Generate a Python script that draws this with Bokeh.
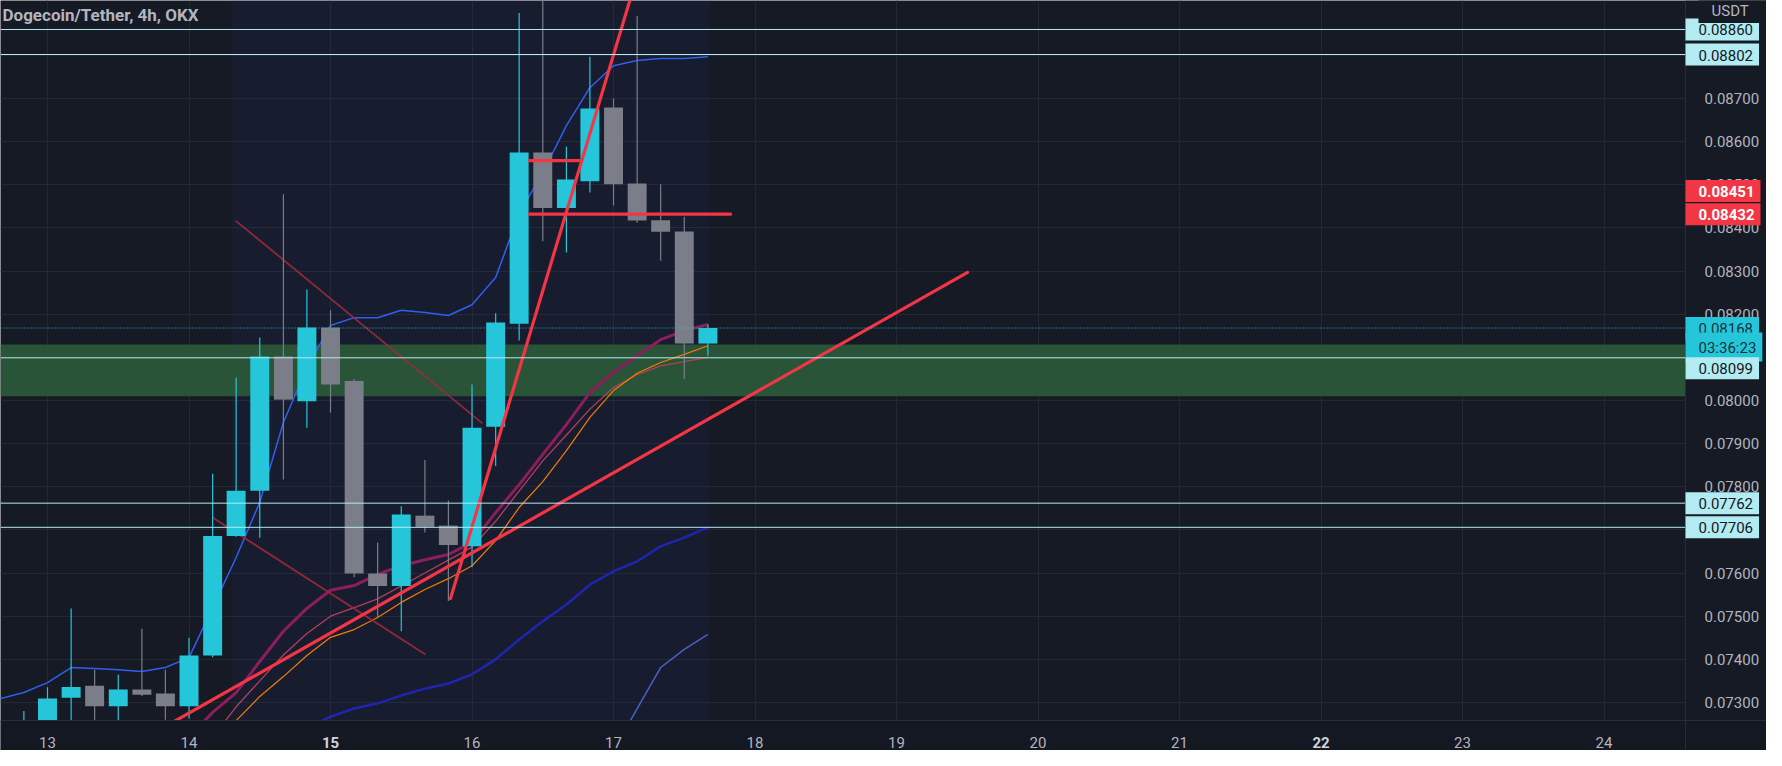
import numpy as np
from bokeh.plotting import figure
from bokeh.models import (Range1d, FixedTicker, Label, Span, BoxAnnotation, NumeralTickFormatter,
                          ColumnDataSource, LinearAxis, Grid)
from bokeh.embed import file_html
from bokeh.resources import INLINE

# ---------------- data ----------------
title_text = "Dogecoin/Tether, 4h, OKX"
currency = "USDT"
day_ticks = [13, 14, 16, 17, 18, 19, 20, 21, 23, 24]
bold_days = [15, 22]
price_ticks = [0.073, 0.074, 0.075, 0.076, 0.077, 0.078, 0.079, 0.080, 0.081,
               0.082, 0.083, 0.084, 0.085, 0.086, 0.087, 0.088]

# 4h candles (day of month)
dates = [12.833, 13.0, 13.167, 13.333, 13.5, 13.667, 13.833, 14.0, 14.167, 14.333,
         14.5, 14.667, 14.833, 15.0, 15.167, 15.333, 15.5, 15.667, 15.833, 16.0,
         16.167, 16.333, 16.5, 16.667, 16.833, 17.0, 17.167, 17.333, 17.5, 17.667]
opens = [0.0719, 0.0724, 0.07311, 0.07339, 0.07291, 0.0733, 0.07321, 0.07291, 0.07409, 0.07686,
         0.07791, 0.08102, 0.07998, 0.08169, 0.08045, 0.07599, 0.0757, 0.07733, 0.0771, 0.07662,
         0.07939, 0.08178, 0.08575, 0.08446, 0.08508, 0.08679, 0.08503, 0.08418, 0.08392, 0.08132]
highs = [0.0728, 0.07335, 0.07518, 0.07376, 0.07365, 0.07471, 0.07376, 0.0745, 0.0783, 0.08053,
         0.08146, 0.08478, 0.08257, 0.08209, 0.0805, 0.07671, 0.07755, 0.07862, 0.07768, 0.08037,
         0.08202, 0.08898, 0.0895, 0.08589, 0.08797, 0.0870, 0.08891, 0.08501, 0.08426, 0.08177]
lows = [0.0716, 0.0722, 0.0725, 0.0724, 0.0725, 0.07315, 0.0726, 0.07263, 0.07405, 0.07684,
        0.07682, 0.07817, 0.07937, 0.07972, 0.0759, 0.07497, 0.07465, 0.07694, 0.07535, 0.07614,
        0.07848, 0.08139, 0.08369, 0.08343, 0.08482, 0.08452, 0.08412, 0.08324, 0.0805, 0.08104]
closes = [0.0725, 0.07309, 0.07336, 0.07291, 0.0733, 0.07318, 0.07291, 0.07409, 0.07686, 0.07791,
          0.08102, 0.08002, 0.08169, 0.08037, 0.07599, 0.0757, 0.07736, 0.07707, 0.07665, 0.07937,
          0.08181, 0.08575, 0.08446, 0.08512, 0.08677, 0.08501, 0.08417, 0.08391, 0.08132, 0.08168]

# indicator lines (one earlier point so the band reaches the left edge)
ind_dates = [12.5] + dates
upper_band = [0.07295, 0.07323, 0.07346, 0.07381, 0.07379, 0.07376, 0.07372, 0.07381, 0.07404, 0.0752,
              0.07636, 0.07764, 0.07949, 0.08076, 0.08174, 0.08192, 0.08192, 0.08209, 0.08204, 0.08197,
              0.08222, 0.08285, 0.08433, 0.08528, 0.08637, 0.08725, 0.08776, 0.08788, 0.08793, 0.08793, 0.08797]
slow_ma = [None] * 13 + [0.0724, 0.07267, 0.07286, 0.07298, 0.07316, 0.07332, 0.07344, 0.07365, 0.074,
                         0.07446, 0.07488, 0.07527, 0.07573, 0.07604, 0.07627, 0.07662, 0.07682, 0.07706]
lower_band = [None] * 26 + [0.07189, 0.07286, 0.07381, 0.07423, 0.07458]
ma_magenta = [None] * 8 + [0.0722, 0.07277, 0.07323, 0.07395, 0.07465, 0.07518, 0.0756, 0.07571, 0.07597,
                           0.07617, 0.07631, 0.07643, 0.07671, 0.0774, 0.07805, 0.07875, 0.07944, 0.08018,
                           0.08065, 0.08104, 0.08141, 0.08162, 0.08176]
ma_pink = [None] * 9 + [0.0722, 0.0729, 0.0735, 0.0741, 0.0746, 0.0750, 0.0752, 0.0754, 0.0757, 0.0760,
                        0.0763, 0.0766, 0.0772, 0.0779, 0.0786, 0.0792, 0.0798, 0.0803, 0.0806, 0.0808,
                        0.0809, 0.0810]
ma_orange = [None] * 9 + [0.0720, 0.07258, 0.07314, 0.0736, 0.07409, 0.07451, 0.07469, 0.07497, 0.07532,
                          0.07562, 0.07587, 0.07617, 0.07675, 0.07752, 0.07812, 0.07884, 0.07961, 0.08023,
                          0.08063, 0.08088, 0.08107, 0.08127]

# drawn lines: [start, end] in (day, price)
trend_up_x, trend_up_y = [13.6, 19.502], [0.07201, 0.08297]
trend_steep_x, trend_steep_y = [15.848, 17.2], [0.07541, 0.0902]
level_high_x, level_high_y = [16.406, 16.76], [0.08556, 0.08556]
level_mid_x, level_mid_y = [16.406, 17.827], [0.08432, 0.08432]
thin_a_x, thin_a_y = [14.329, 16.074], [0.08417, 0.07947]
thin_b_x, thin_b_y = [14.166, 15.671], [0.07729, 0.07411]

h_levels = [0.0886, 0.08802, 0.08099, 0.07762, 0.07706]
zone_bottom, zone_top = 0.0801, 0.0813
last_price = 0.08168
countdown = "03:36:23"
highlight_start, highlight_end = 14.3, 17.68

# ---------------- figure ----------------
BG = "#161a25"
TXT = "#b2b5be"
FONT = "Roboto"
x0, axis_x, x1 = 12.6678, 24.576, 25.148     # left edge, price-axis line, right edge
y0, y1 = 0.072582, 0.089272                  # bottom / top of the price pane
PANE_H = 720
AXIS_PX = 1685
ppx = (y1 - y0) / PANE_H
y_low = y0 - 30 * ppx                        # extra strip for the time axis

p = figure(width=1766, height=750, x_range=Range1d(x0, x1), y_range=Range1d(y_low, y1),
           x_axis_location=None, y_axis_location=None, toolbar_location=None, output_backend="svg",
           min_border_left=0, min_border_top=0, min_border_right=0, min_border_bottom=0,
           background_fill_color=BG, border_fill_color=BG)
p.outline_line_color = None

xt = FixedTicker(ticks=day_ticks + bold_days)
yt = FixedTicker(ticks=price_ticks)
p.add_layout(Grid(dimension=0, ticker=xt, grid_line_color="#242834"))
p.add_layout(Grid(dimension=1, ticker=yt, grid_line_color="#242834"))

yax = LinearAxis(ticker=yt, formatter=NumeralTickFormatter(format="0.00000"), fixed_location=axis_x)
p.add_layout(yax, "right")
xax = LinearAxis(ticker=FixedTicker(ticks=day_ticks), fixed_location=y0)
p.add_layout(xax, "below")
xbold = LinearAxis(ticker=FixedTicker(ticks=bold_days), fixed_location=y0)
p.add_layout(xbold, "below")

for ax in (xax, xbold, yax):
    ax.axis_line_color = None
    ax.major_tick_line_color = None
    ax.minor_tick_line_color = None
    ax.major_label_text_color = TXT
    ax.major_label_text_font = FONT
    ax.major_label_text_font_size = "15px"
yax.major_label_standoff = 13
xax.major_label_standoff = 10
xbold.major_label_standoff = 10
xbold.major_label_text_font_style = "bold"
xbold.major_label_text_color = "#d1d4dc"

# backgrounds
p.add_layout(BoxAnnotation(left=highlight_start, right=highlight_end, bottom=y0, fill_color="#2962ff",
                           fill_alpha=0.045, line_color=None, level="underlay"))
p.add_layout(BoxAnnotation(bottom=zone_bottom, top=zone_top, right=axis_x, fill_color="#2e5c3a",
                           fill_alpha=0.88, line_color=None, level="underlay"))
p.add_layout(BoxAnnotation(left=axis_x, fill_color=BG, fill_alpha=1, line_color=None, level="underlay"))

def arr(v):
    return np.array([np.nan if a is None else a for a in v], dtype=float)

p.line(ind_dates, arr(slow_ma), line_color="#1f25b0", line_width=2.5)
p.line(ind_dates, arr(lower_band), line_color="#4a5fc8", line_width=1.5)
p.line(ind_dates, arr(upper_band), line_color="#2f5ff0", line_width=1.5)
p.line(ind_dates, arr(ma_magenta), line_color="#8e1d5c", line_width=3)
p.line(ind_dates, arr(ma_pink), line_color="#b0405e", line_width=1.3)
p.line(ind_dates, arr(ma_orange), line_color="#f57c00", line_width=1.2)

p.line(thin_a_x, thin_a_y, line_color="#9b2a3e", line_width=1.8, line_alpha=0.9)
p.line(thin_b_x, thin_b_y, line_color="#9b2a3e", line_width=1.8, line_alpha=0.9)

up = [c >= o for o, c in zip(opens, closes)]
src = ColumnDataSource(dict(
    x=dates, o=opens, h=highs, l=lows, c=closes,
    top=[max(o, c) for o, c in zip(opens, closes)],
    bot=[min(o, c) for o, c in zip(opens, closes)],
    col=["#26c6da" if u else "#7b7e88" for u in up]))
p.segment(x0="x", x1="x", y0="l", y1="h", line_color="col", line_width=1.2, source=src)
p.vbar(x="x", width=0.134, top="top", bottom="bot", fill_color="col", line_color=None, source=src)

for xs, ys in ((trend_up_x, trend_up_y), (trend_steep_x, trend_steep_y),
               (level_high_x, level_high_y), (level_mid_x, level_mid_y)):
    p.line(xs, ys, line_color="#f23645", line_width=3.2, line_cap="round")

lv_src = ColumnDataSource(dict(x0=[x0] * len(h_levels), x1=[axis_x] * len(h_levels), y=h_levels))
p.segment(x0="x0", x1="x1", y0="y", y1="y", line_color="#b2ebf2", line_width=1, source=lv_src)
p.segment(x0=[x0], x1=[axis_x], y0=[last_price], y1=[last_price], line_color="#26c6da",
          line_width=1, line_dash="1 2")

# time-axis strip drawn over anything that runs below the price pane
p.quad(left=[x0], right=[x1], bottom=[y_low], top=[y0], fill_color="#141823", line_color=None)
p.segment(x0=[x0], x1=[x1], y0=[y0], y1=[y0], line_color="#2a2e39", line_width=1)
p.add_layout(Span(location=axis_x, dimension="height", line_color="#2a2e39", line_width=1))

# title
p.add_layout(Label(x=2, x_units="screen", y=y1 - 14 * ppx, text=title_text, text_font=FONT,
                   text_font_size="17px", text_font_style="bold", text_color=TXT,
                   text_baseline="middle"))

# price-axis tags
def tag(price, text, bg, fg, bold=False, shift_px=0):
    p.add_layout(Label(x=AXIS_PX, x_units="screen", y=price - shift_px * ppx, text=text,
                       text_font=FONT, text_font_size="15px",
                       text_font_style="bold" if bold else "normal",
                       text_color=fg, background_fill_color=bg, text_baseline="middle",
                       padding=dict(left=13, right=6, top=6, bottom=5)))

tag(h_levels[0], "0.08860", "#b2ebf2", "#131722")
tag(h_levels[1], "0.08802", "#b2ebf2", "#131722")
tag(0.08451, "0.08451", "#f23645", "#ffffff", bold=True, shift_px=-15)
tag(0.08432, "0.08432", "#f23645", "#ffffff", bold=True, shift_px=0)
tag(last_price, "%.5f" % last_price, "#26c6da", "#10343a")
tag(last_price, countdown, "#26c6da", "#10343a", shift_px=19)
tag(h_levels[2], "0.08099", "#b2ebf2", "#131722", shift_px=10.5)
tag(h_levels[3], "0.07762", "#b2ebf2", "#131722")
tag(h_levels[4], "0.07706", "#b2ebf2", "#131722")

p.add_layout(Label(x=AXIS_PX + 13, x_units="screen", y=y1 - 10 * ppx, text=currency,
                   text_font=FONT, text_font_size="15px", text_color=TXT,
                   text_baseline="middle", background_fill_color=BG,
                   padding=dict(left=13, right=20, top=4, bottom=3)))

open("out.html", "w").write(file_html(p, INLINE))
